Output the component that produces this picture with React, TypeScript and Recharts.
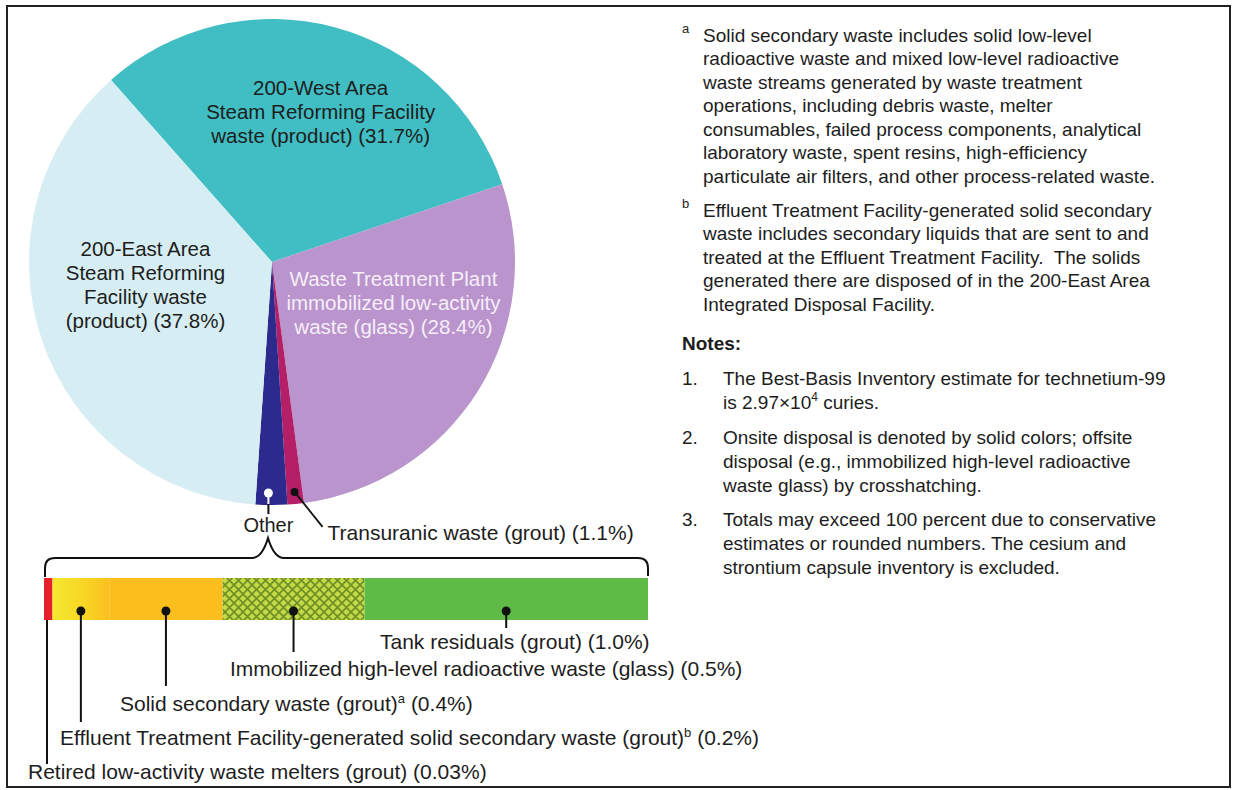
import React from "react";
import { Bar, BarChart, Cell, Pie, PieChart, XAxis, YAxis } from "recharts";

const FONT = '"Liberation Sans", Arial, Helvetica, sans-serif';
const INK = "#1d1d1d";

// Pie: share of technetium-99 inventory by waste form (percent)
const pieNames = [
  "200-West Area Steam Reforming Facility waste",
  "Waste Treatment Plant immobilized low-activity waste",
  "Transuranic waste",
  "Other",
  "200-East Area Steam Reforming Facility waste",
];
const otherNames = [
  "Retired low-activity waste melters",
  "ETF-generated solid secondary waste",
  "Solid secondary waste",
  "Immobilized high-level radioactive waste",
  "Tank residuals",
];
const otherValues = [0.03, 0.2, 0.4, 0.5, 1.0];
const otherTotal = otherValues.reduce((a, b) => a + b, 0);
const pieValues = [31.7, 28.4, 1.1, otherTotal, 37.8];

const pieColors = ["#41bec3", "#ba94cd", "#b41f68", "#2c2a8d", "#d6eef3"];
const pieLabelLines = [
  ["200-West Area", "Steam Reforming Facility", "waste (product) (31.7%)"],
  ["Waste Treatment Plant", "immobilized low-activity", "waste (glass) (28.4%)"],
  [],
  [],
  ["200-East Area", "Steam Reforming", "Facility waste", "(product) (37.8%)"],
];
// [text, superscript, tail]
const otherLabels = [
  ["Retired low-activity waste melters (grout) (0.03%)", "", ""],
  ["Effluent Treatment Facility-generated solid secondary waste (grout)", "b", " (0.2%)"],
  ["Solid secondary waste (grout)", "a", " (0.4%)"],
  ["Immobilized high-level radioactive waste (glass) (0.5%)", "", ""],
  ["Tank residuals (grout) (1.0%)", "", ""],
];
const otherFills = ["#e5222b", "url(#ylw)", "#fbbe1d", "url(#xhatch)", "#5dbb46"];

const footA = [
  "Solid secondary waste includes solid low-level",
  "radioactive waste and mixed low-level radioactive",
  "waste streams generated by waste treatment",
  "operations, including debris waste, melter",
  "consumables, failed process components, analytical",
  "laboratory waste, spent resins, high-efficiency",
  "particulate air filters, and other process-related waste.",
];
const footB = [
  "Effluent Treatment Facility-generated solid secondary",
  "waste includes secondary liquids that are sent to and",
  "treated at the Effluent Treatment Facility.  The solids",
  "generated there are disposed of in the 200-East Area",
  "Integrated Disposal Facility.",
];
const note2 = [
  "Onsite disposal is denoted by solid colors; offsite",
  "disposal (e.g., immobilized high-level radioactive",
  "waste glass) by crosshatching.",
];
const note3 = [
  "Totals may exceed 100 percent due to conservative",
  "estimates or rounded numbers. The cesium and",
  "strontium capsule inventory is excluded.",
];

// layout
const PIE_CX = 272;
const PIE_CY = 262;
const PIE_R = 243;
const PIE_START = 131.5;
const BAR_TOP = 540;
const BAR_LEFT = 44;
const BAR_RIGHT = 648;
const BAR_Y = 578;
const BAR_H = 42;
const BAR_CHART_W = 780;
const BAR_CHART_H = 250;

const RAD = Math.PI / 180;
const pieLabelPlace = [
  { f: 0.65, dx: 8, dy: 3, color: INK },
  { f: 0.55, dx: 8, dy: -30, color: "#f6eef8" },
  null,
  null,
  { f: 0.55, dx: 0, dy: -20, color: INK },
];

// leader line end / label anchor, page coords
const segLayout = [
  { dot: false, lineTo: 764, tx: 28, ty: 771 },
  { dot: true, lineTo: 722, tx: 60, ty: 737 },
  { dot: true, lineTo: 686, tx: 120, ty: 703 },
  { dot: true, lineTo: 652, tx: 230, ty: 668 },
  { dot: true, lineTo: 628, tx: 380, ty: 641 },
];

function renderPieLabel(p: any) {
  const { cx, cy, midAngle, outerRadius, index } = p;
  const cos = Math.cos(-midAngle * RAD);
  const sin = Math.sin(-midAngle * RAD);
  if (index === 2) {
    const x = cx + (outerRadius - 12) * cos;
    const y = cy + (outerRadius - 12) * sin;
    return (
      <g>
        <circle cx={x} cy={y} r={4} fill="#111" />
        <line x1={x} y1={y} x2={x + 28} y2={y + 35} stroke="#111" strokeWidth={1.8} />
        <text x={x + 33} y={y + 48.5} fontSize={21} fontFamily={FONT} fill={INK}>
          Transuranic waste (grout) (1.1%)
        </text>
      </g>
    );
  }
  if (index === 3) {
    const x = cx + (outerRadius - 12) * cos - 3;
    const y = cy + (outerRadius - 12) * sin;
    const edge = cy + outerRadius;
    return (
      <g>
        <line x1={x} y1={y} x2={x} y2={edge - 1} stroke="#fff" strokeWidth={2} />
        <circle cx={x} cy={y} r={4.5} fill="#fff" />
        <line x1={x} y1={edge - 1} x2={x} y2={edge + 9} stroke="#111" strokeWidth={2} />
        <text x={x} y={edge + 27} textAnchor="middle" fontSize={20} fontFamily={FONT} fill={INK}>
          Other
        </text>
      </g>
    );
  }
  const place = pieLabelPlace[index];
  const lines = pieLabelLines[index];
  if (!place || !lines.length) return null;
  const ax = cx + place.f * outerRadius * cos + place.dx;
  const ay = cy + place.f * outerRadius * sin + place.dy;
  const lh = 24;
  const top = ay - ((lines.length - 1) * lh) / 2;
  return (
    <text textAnchor="middle" fontSize={20.5} fontFamily={FONT} fill={place.color}>
      {lines.map((ln, i) => (
        <tspan key={i} x={ax} y={top + i * lh + 7}>
          {ln}
        </tspan>
      ))}
    </text>
  );
}

const segShape = (i: number) => (p: any) => {
  const { x, y, width, height, fill } = p;
  const L = segLayout[i];
  const lx = L.dot ? x + width / 2 : x + 3;
  const bottom = y + height;
  const sy = L.dot ? bottom - 9 : bottom;
  const [main, sup, tail] = otherLabels[i];
  return (
    <g>
      <rect x={x} y={y} width={width} height={height} fill={fill} />
      <line x1={lx} y1={sy} x2={lx} y2={L.lineTo - BAR_TOP} stroke="#111" strokeWidth={2} />
      {L.dot && <circle cx={lx} cy={sy} r={4.5} fill="#111" />}
      <text x={L.tx} y={L.ty - BAR_TOP + 7.5} fontSize={21} fontFamily={FONT} fill={INK}>
        {main}
        {sup && (
          <tspan dy={-8} fontSize={13}>
            {sup}
          </tspan>
        )}
        {tail && <tspan dy={sup ? 8 : 0}>{tail}</tspan>}
      </text>
    </g>
  );
};

function TextLines({ lines, x, y0, step }: { lines: string[]; x: number; y0: number; step: number }) {
  return (
    <>
      {lines.map((ln, i) => (
        <text key={i} x={x} y={y0 + i * step + 6.5} fontSize={19} fontFamily={FONT} fill={INK} xmlSpace="preserve">
          {ln}
        </text>
      ))}
    </>
  );
}

export default function App() {
  const pieRows = pieNames.map((name, i) => ({ name, value: pieValues[i] }));
  const barRow: Record<string, any> = { name: "Other" };
  otherNames.forEach((n, i) => (barRow[n] = otherValues[i]));

  const braceTop = 558;
  const braceTip = 538;
  const braceMid = 268;

  return (
    <div
      style={{
        position: "fixed",
        left: 0,
        top: 0,
        width: 1233,
        height: 790,
        background: "#fff",
        overflow: "hidden",
        fontFamily: FONT,
      }}
    >
      <svg width={1233} height={790} style={{ position: "absolute", left: 0, top: 0 }}>
        <rect x={7} y={6} width={1223} height={781} fill="none" stroke="#222" strokeWidth={2} />

        <text x={682} y={33} fontSize={13} fontFamily={FONT} fill={INK}>a</text>
        <TextLines lines={footA} x={703} y0={35} step={23.5} />
        <text x={682} y={208} fontSize={13} fontFamily={FONT} fill={INK}>b</text>
        <TextLines lines={footB} x={703} y0={210} step={23.5} />

        <text x={682} y={349.5} fontSize={19} fontWeight="bold" fontFamily={FONT} fill={INK}>Notes:</text>
        <text x={682} y={384.5} fontSize={19} fontFamily={FONT} fill={INK}>1.</text>
        <TextLines lines={["The Best-Basis Inventory estimate for technetium-99"]} x={723} y0={378} step={24} />
        <text x={723} y={408.5} fontSize={19} fontFamily={FONT} fill={INK}>
          is 2.97×10
          <tspan dy={-8} fontSize={12}>4</tspan>
          <tspan dy={8}> curies.</tspan>
        </text>
        <text x={682} y={443.5} fontSize={19} fontFamily={FONT} fill={INK}>2.</text>
        <TextLines lines={note2} x={723} y0={437} step={24} />
        <text x={682} y={525.5} fontSize={19} fontFamily={FONT} fill={INK}>3.</text>
        <TextLines lines={note3} x={723} y0={519} step={24} />

        <path
          d={`M${BAR_LEFT + 1},${BAR_Y - 1} L${BAR_LEFT + 1},${braceTop + 10} Q${BAR_LEFT + 1},${braceTop} ${BAR_LEFT + 11},${braceTop}
             L${braceMid - 16},${braceTop} Q${braceMid - 6},${braceTop} ${braceMid},${braceTip}
             Q${braceMid + 6},${braceTop} ${braceMid + 16},${braceTop}
             L${BAR_RIGHT - 10},${braceTop} Q${BAR_RIGHT},${braceTop} ${BAR_RIGHT},${braceTop + 10} L${BAR_RIGHT},${BAR_Y - 2}`}
          fill="none"
          stroke="#111"
          strokeWidth={2}
        />
      </svg>

      <div style={{ position: "absolute", left: 0, top: 0 }}>
        <PieChart width={700} height={560} margin={{ top: 0, right: 0, bottom: 0, left: 0 }}>
          <Pie
            data={pieRows}
            dataKey="value"
            nameKey="name"
            cx={PIE_CX}
            cy={PIE_CY}
            outerRadius={PIE_R}
            startAngle={PIE_START}
            endAngle={PIE_START - 360}
            stroke="none"
            label={renderPieLabel}
            labelLine={false}
            isAnimationActive={false}
          >
            {pieRows.map((r, i) => (
              <Cell key={r.name} fill={pieColors[i]} />
            ))}
          </Pie>
        </PieChart>
      </div>

      <div style={{ position: "absolute", left: 0, top: BAR_TOP }}>
        <BarChart
          width={BAR_CHART_W}
          height={BAR_CHART_H}
          data={[barRow]}
          layout="vertical"
          barCategoryGap={0}
          margin={{
            top: BAR_Y - BAR_TOP,
            left: BAR_LEFT,
            right: BAR_CHART_W - BAR_RIGHT,
            bottom: BAR_CHART_H - (BAR_Y - BAR_TOP) - BAR_H,
          }}
        >
          <defs>
            <linearGradient id="ylw" x1="0" y1="0" x2="1" y2="0">
              <stop offset="0%" stopColor="#f4e82e" />
              <stop offset="55%" stopColor="#f8d624" />
              <stop offset="100%" stopColor="#fbc01e" />
            </linearGradient>
            <pattern id="xhatch" width={9} height={9} patternUnits="userSpaceOnUse">
              <rect width={9} height={9} fill="#c5d947" />
              <path d="M0,0 L9,9 M9,0 L0,9" stroke="#6d8f26" strokeWidth={1.6} />
            </pattern>
          </defs>
          <XAxis type="number" domain={[0, otherTotal]} hide />
          <YAxis type="category" dataKey="name" hide />
          {otherNames.map((n, i) => (
            <Bar
              key={n}
              dataKey={n}
              stackId="other"
              fill={otherFills[i]}
              shape={segShape(i)}
              isAnimationActive={false}
            />
          ))}
        </BarChart>
      </div>
    </div>
  );
}
